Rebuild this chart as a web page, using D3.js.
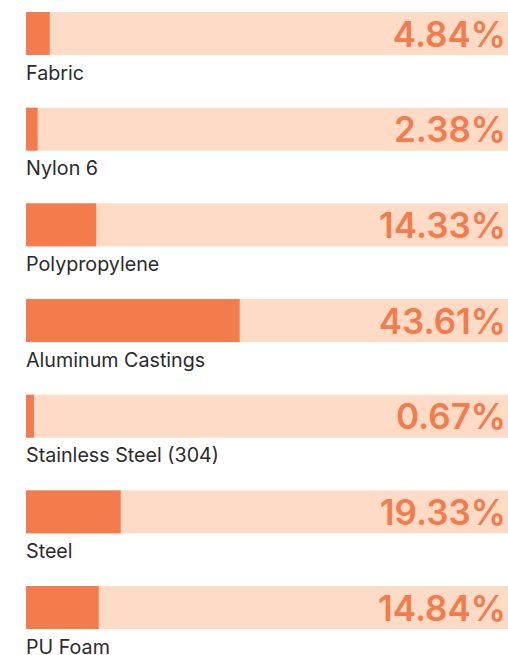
<!DOCTYPE html>
<html>
<head>
<meta charset="utf-8">
<script src="https://cdn.jsdelivr.net/npm/d3@7"></script>
<style>
  html, body { margin: 0; padding: 0; background: #fff; }
  svg { display: block; }
</style>
</head>
<body>
<svg id="chart" width="508" height="655"></svg>
<script>
const categories = ["Fabric", "Nylon 6", "Polypropylene", "Aluminum Castings", "Stainless Steel (304)", "Steel", "PU Foam"];
const values = [4.84, 2.38, 14.33, 43.61, 0.67, 19.33, 14.84];
const valueLabels = ["4.84%", "2.38%", "14.33%", "43.61%", "0.67%", "19.33%", "14.84%"];

const W = 508, H = 655;
const left = 26, barH = 43, step = 95.67, top0 = 12;
const svg = d3.select("#chart");

const x = d3.scaleLinear().domain([0, 100]).range([left, left + 490]);
const y = d3.scaleBand().domain(categories)
  .range([top0, top0 + step * categories.length]).paddingInner(0).paddingOuter(0);

const data = categories.map((c, i) => ({ c, v: values[i], t: valueLabels[i] }));

const g = svg.selectAll("g.row").data(data).enter().append("g").attr("class", "row")
  .attr("transform", d => `translate(0,${y(d.c)})`);

g.append("rect")
  .attr("x", x(0)).attr("y", 0)
  .attr("width", W - x(0)).attr("height", barH)
  .attr("fill", "#fddbc6");

g.append("rect")
  .attr("x", x(0)).attr("y", 0)
  .attr("width", d => Math.max(8, x(d.v) - x(0))).attr("height", barH)
  .attr("fill", "#f47c4c");

g.append("text")
  .attr("x", 506).attr("y", 34.5)
  .attr("text-anchor", "end")
  .attr("font-family", "Inter, sans-serif")
  .attr("font-weight", 600)
  .attr("font-size", 35)
  .attr("fill", "#f47c4c")
  .text(d => d.t);

g.append("text")
  .attr("x", x(0)).attr("y", barH + 24.5)
  .attr("font-family", "Inter, sans-serif")
  .attr("font-weight", 400)
  .attr("font-size", 19.7)
  .attr("fill", "#2b2b2b")
  .text(d => d.c);
</script>
</body>
</html>
